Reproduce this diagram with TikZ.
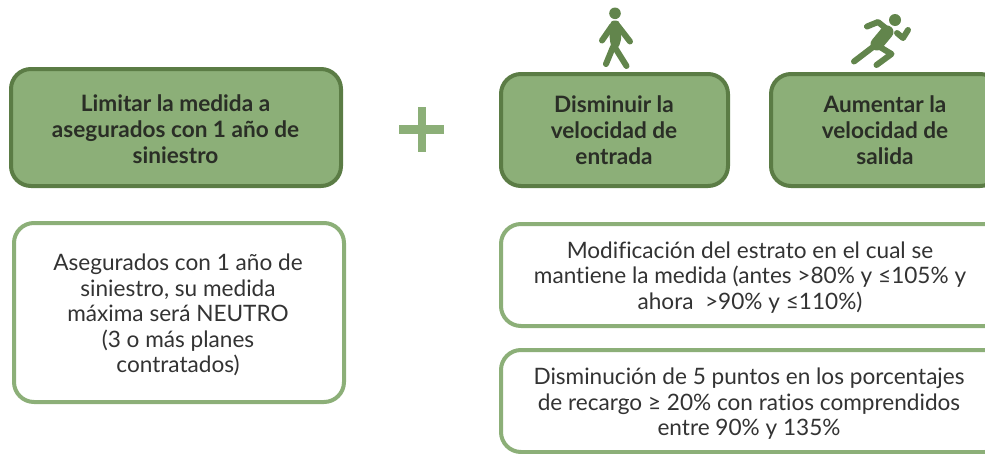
\documentclass[tikz,border=0pt]{standalone}
\usepackage{fontspec}
\setmainfont[Ligatures=NoCommon]{Lato}
\definecolor{dk}{HTML}{5B7C45}
\definecolor{md}{HTML}{8CAF78}
\definecolor{ic}{HTML}{62854C}
\definecolor{tx}{HTML}{333333}
\definecolor{tb}{HTML}{2A2E26}
\tikzset{
 solidbox/.style={draw=dk,fill=md,line width=4pt,rounded corners=20pt},
 whitebox/.style={draw=md,fill=white,line width=4pt,rounded corners=20pt},
 head/.style={font=\fontsize{22.6}{26}\selectfont\bfseries,text=tb,align=center,inner sep=0pt},
 body/.style={font=\fontsize{22.6}{25.6}\selectfont,text=tx,align=center,inner sep=0pt},
 limb/.style={draw=ic,line width=6pt,line cap=round,line join=round},
}
\begin{document}
\begin{tikzpicture}[x=1pt,y=-1pt]
\useasboundingbox (0,0) rectangle (985,453);
\clip (0,0) rectangle (985,453);
\draw[solidbox] (11,69) rectangle (341,186);
\draw[solidbox] (501,74) rectangle (728,186);
\draw[solidbox] (771,74) rectangle (1000,186);
\draw[whitebox] (14,223) rectangle (344,402);
\draw[whitebox] (501,224) rectangle (1005,326);
\draw[whitebox] (501,350) rectangle (1005,452);
\node[head] (a) at (175.5,129) {Limitar la medida a\\asegurados con 1 año de\\siniestro};
\node[head] (b) at (614,130) {Disminuir la\\velocidad de\\entrada};
\node[head] (c) at (885,130) {Aumentar la\\velocidad de\\salida};
\node[body] (d) at (178,315) {Asegurados con 1 año de\\siniestro, su medida\\máxima será NEUTRO\\(3 o más planes\\contratados)};
\node[body] (e) at (750,277.5) {Modificación del estrato en el cual se\\mantiene la medida (antes >80\% y ≤105\% y\\ahora\ \ >90\% y ≤110\%)};
\node[body] (f) at (749,404) {Disminución de 5 puntos en los porcentajes\\de recargo ≥ 20\% con ratios comprendidos\\entre 90\% y 135\%};
% plus
\fill[md] (417.5,106.5) rectangle (426,152);
\fill[md] (398.5,125) rectangle (444,134);
% walker
\fill[ic] (615,13.3) circle (5.8);
\draw[limb] (612,26) -- (602,40.5);
\draw[limb] (618,26) -- (630,41.5);
\draw[ic,fill=ic,line width=1pt,line join=round,rounded corners=3pt] (611,21) -- (619,21) -- (621,38) -- (618,48) -- (612,48) -- (610,38) -- cycle;
\draw[limb] (613,47) -- (606,64);
\draw[limb] (614,46) -- (626.5,66);
% runner
\fill[ic] (895,20) circle (6);
\draw[limb] (867,26.5) -- (878,22) -- (888,30);
\draw[limb] (897,33) -- (903,38) -- (908,30);
\draw[ic,line width=13pt,line cap=round] (887,32) -- (877,44);
\draw[limb] (873,47) -- (854,61.5);
\draw[limb] (875,44) -- (891.5,54) -- (876.5,65);
\end{tikzpicture}
\end{document}
